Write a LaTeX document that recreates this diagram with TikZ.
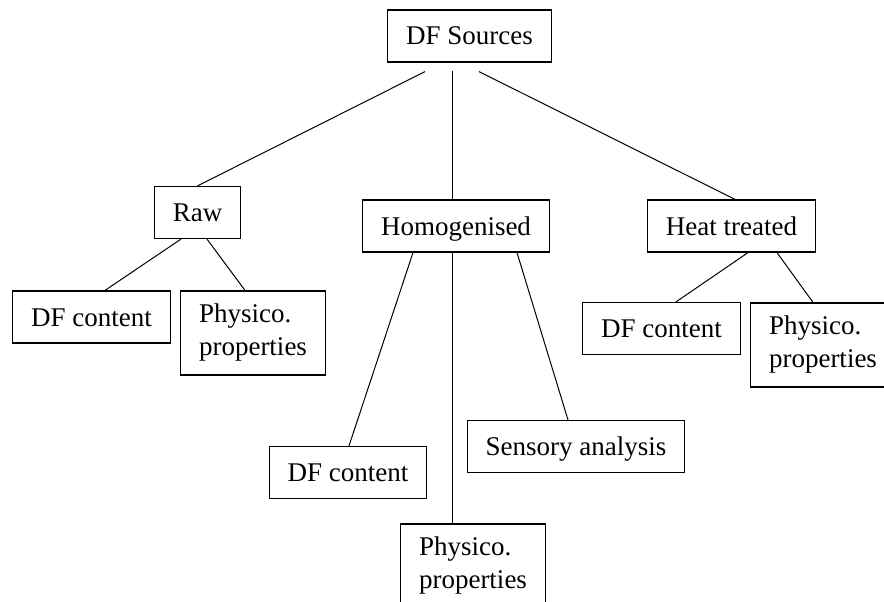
\documentclass[tikz,border=0pt]{standalone}
\usepackage{fontspec}
\setmainfont{Liberation Serif}
\usepackage{tikz}

\begin{document}
\begin{tikzpicture}
[-,x=1pt,y=-1pt,line width=1pt,%
  every node/.style={shape=rectangle,draw,line width=1.2pt,inner xsep=18.5pt,%
    font=\fontsize{27}{33}\selectfont},%
  oneline/.style={text height=18pt,text depth=0pt,minimum height=52pt},%
  twoline/.style={align=left,minimum height=84pt}]
\useasboundingbox (0,0) rectangle (884,602);
\clip (0,0) rectangle (884,602);
% top level
\node[oneline] (src) at (469.5,36) {DF Sources};
\node[oneline] (raw) at (197.5,212.5) {Raw};
\node[oneline] (hom) at (456,226) {Homogenised};
\node[oneline] (heat) at (731.5,226) {Heat treated};
% raw
\node[oneline] (rawdf) at (91.5,317) {DF content};
\node[twoline] (rawpp) at (253,333) {Physico.\\properties};
% homogenised
\node[oneline] (homdf) at (348,472.5) {DF content};
\node[oneline] (homsa) at (576,446.5) {Sensory analysis};
\node[twoline] (hompp) at (473,566) {Physico.\\properties};
% heat treated
\node[oneline] (heatdf) at (661.5,328.5) {DF content};
\node[twoline] (heatpp) at (823,345) {Physico.\\properties};

\draw ([xshift=-44.5pt,yshift=-9pt]src.south) -- (raw.north);
\draw ([xshift=-17.5pt,yshift=-8pt]src.south) -- ([xshift=-4pt]hom.north);
\draw ([xshift=9.5pt,yshift=-9pt]src.south) -- ([xshift=3.5pt]heat.north);
\draw ([xshift=-16.5pt]raw.south) -- ([xshift=13.5pt]rawdf.north);
\draw ([xshift=9.5pt]raw.south) -- ([xshift=-8pt]rawpp.north);
\draw ([xshift=-43pt]hom.south) -- ([xshift=1pt]homdf.north);
\draw ([xshift=-4pt]hom.south) -- ([xshift=-21pt]hompp.north);
\draw ([xshift=61pt]hom.south) -- ([xshift=-8pt]homsa.north);
\draw ([xshift=16.5pt]heat.south) -- ([xshift=14.5pt]heatdf.north);
\draw ([xshift=45.5pt]heat.south) -- ([xshift=-10pt]heatpp.north);
\end{tikzpicture}
\end{document}
